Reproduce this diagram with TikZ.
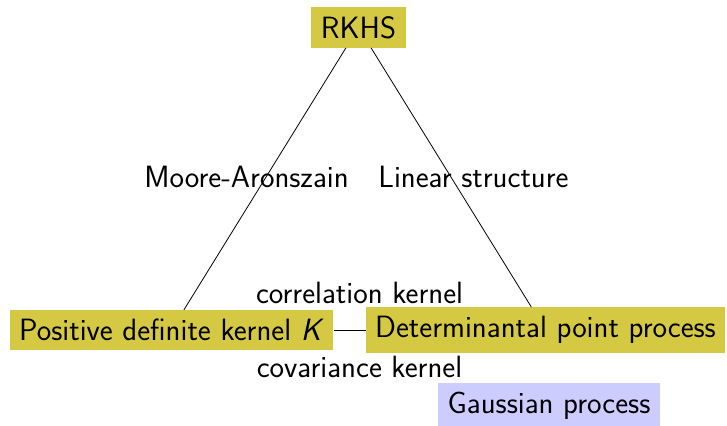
\documentclass[tikz,border=0pt]{standalone}
\usepackage{fontspec}
\definecolor{boxyellow}{RGB}{213,201,68}
\definecolor{boxblue}{RGB}{204,204,255}
\begin{document}
\begin{tikzpicture}[x=1pt,y=-1pt,
  txt/.style={font=\sffamily\fontsize{30.8}{36}\selectfont},
  conceptbox/.style={txt, fill=boxyellow, inner xsep=9.5pt, inner ysep=9pt},
  bluebox/.style={txt, fill=boxblue, inner xsep=9.5pt, inner ysep=9pt},
  lbl/.style={txt, anchor=base, inner sep=0pt},
  conn/.style={draw=black, line width=0.8pt}]
\useasboundingbox (0,0) rectangle (727,425);
\node[conceptbox] (rkhs) at (358.5,27.5) {RKHS};
\node[conceptbox] (pdk) at (171.5,330) {Positive definite kernel \textit{K}};
\node[conceptbox] (dpp) at (545.5,330) {Determinantal point process};
\node[bluebox] (gp) at (549,406) {Gaussian process};
\draw[conn] (rkhs) -- (pdk);
\draw[conn] (rkhs) -- (dpp);
\draw[conn] (pdk) -- (dpp);
\node[lbl] (ma) at (246.5,187) {Moore-Aronszain};
\node[lbl] (ls) at (473.5,187) {Linear structure};
\node[lbl] (corr) at (359.5,303) {correlation kernel};
\node[lbl] (cov) at (359.5,377) {covariance kernel};
\end{tikzpicture}
\end{document}
